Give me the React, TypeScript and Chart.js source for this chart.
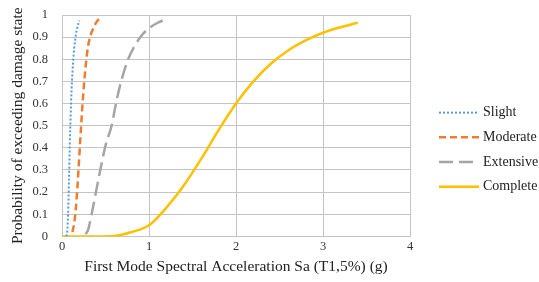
import React, { useEffect, useRef } from "react";
import { Chart, registerables } from "chart.js";

Chart.register(...registerables);

const seriesNames = ["Slight", "Moderate", "Extensive", "Complete"];

const slightX = [0.05, 0.06, 0.07, 0.08, 0.09, 0.1, 0.11, 0.12, 0.13, 0.14, 0.16, 0.18, 0.2];
const slightY = [0, 0.02, 0.1, 0.25, 0.42, 0.55, 0.66, 0.74, 0.8, 0.85, 0.91, 0.95, 0.975];

const moderateX = [0.12, 0.14, 0.16, 0.18, 0.2, 0.22, 0.24, 0.26, 0.28, 0.3, 0.33, 0.36, 0.4, 0.44];
const moderateY = [0.02, 0.06, 0.13, 0.24, 0.37, 0.5, 0.62, 0.72, 0.8, 0.86, 0.91, 0.94, 0.97, 0.985];

const extensiveX = [0.27, 0.3, 0.34, 0.39, 0.44, 0.5, 0.57, 0.62, 0.68, 0.76, 0.9, 1.0, 1.1, 1.22];
const extensiveY = [0.01, 0.03, 0.1, 0.2, 0.3, 0.41, 0.5, 0.6, 0.7, 0.8, 0.9, 0.94, 0.965, 0.985];

const completeX = [0, 0.2, 0.4, 0.6, 0.8, 1.0, 1.2, 1.4, 1.6, 1.8, 2.0, 2.2, 2.4, 2.6, 2.8, 3.0, 3.2, 3.4];
const completeY = [0, 0, 0, 0.002, 0.02, 0.05, 0.13, 0.23, 0.35, 0.48, 0.6, 0.7, 0.78, 0.84, 0.885, 0.92, 0.945, 0.965];

const colors = ["#5b9bd5", "#ed7d31", "#a5a5a5", "#ffc000"];
const dashes = [[2, 2], [7, 4], [14, 6], []];
const widths = [2, 2.5, 2.5, 2.5];

const xTitle = "First Mode Spectral Acceleration Sa (T1,5%) (g)";
const yTitle = "Probability of exceeding damage state";

const toPts = (xs: number[], ys: number[]) => xs.map((x, i) => ({ x, y: ys[i] }));
const serif = "'Liberation Serif', 'Times New Roman', serif";

const legendPlugin = {
  id: "sideLegend",
  afterDraw(chart: any) {
    const ctx = chart.ctx as CanvasRenderingContext2D;
    const area = chart.chartArea;
    const x0 = area.right + 29;
    const lineLen = 40;
    const gap = 24.7;
    const n = chart.data.datasets.length;
    const yMid = (area.top + area.bottom) / 2 + 24;
    ctx.save();
    chart.data.datasets.forEach((ds: any, i: number) => {
      const y = yMid + (i - (n - 1) / 2) * gap;
      ctx.beginPath();
      ctx.strokeStyle = ds.borderColor;
      ctx.lineWidth = ds.borderWidth;
      ctx.setLineDash(ds.borderDash || []);
      ctx.moveTo(x0, y);
      ctx.lineTo(x0 + lineLen, y);
      ctx.stroke();
      ctx.setLineDash([]);
      ctx.fillStyle = "#222";
      ctx.font = `14px ${serif}`;
      ctx.textBaseline = "middle";
      ctx.textAlign = "left";
      ctx.fillText(ds.label, x0 + lineLen + 4, y);
    });
    ctx.restore();
  },
};

export default function App() {
  const ref = useRef<HTMLCanvasElement | null>(null);
  useEffect(() => {
    document.body.style.margin = "0";
    const allX = [slightX, moderateX, extensiveX, completeX];
    const allY = [slightY, moderateY, extensiveY, completeY];
    const chart = new Chart(ref.current!, {
      type: "line",
      data: {
        datasets: seriesNames.map((name, i) => ({
          label: name,
          data: toPts(allX[i], allY[i]),
          borderColor: colors[i],
          backgroundColor: colors[i],
          borderDash: dashes[i],
          borderWidth: widths[i],
          pointRadius: 0,
          cubicInterpolationMode: "monotone" as const,
          fill: false,
        })),
      },
      options: {
        responsive: false,
        animation: false,
        layout: { padding: { top: 15, right: 129, bottom: 6, left: 6 } },
        plugins: {
          tooltip: { enabled: false },
          legend: { display: false },
        },
        scales: {
          x: {
            type: "linear",
            min: 0,
            max: 4,
            ticks: {
              stepSize: 1,
              color: "#333",
              font: { family: serif, size: 12.5 },
              padding: 3,
              callback: (v: any) => String(Number(v)),
            },
            grid: { color: "#c4c4c4", drawTicks: false },
            border: { color: "#c4c4c4" },
            title: {
              display: true,
              text: xTitle,
              color: "#222",
              font: { family: serif, size: 15.5 },
              padding: { top: 0, bottom: 0 },
            },
          },
          y: {
            min: 0,
            max: 1,
            afterFit: (scale: any) => {
              scale.width = 56;
              scale.paddingTop = 0;
              scale.paddingBottom = 0;
            },
            ticks: {
              stepSize: 0.1,
              color: "#333",
              font: { family: serif, size: 12.5 },
              padding: 14,
              callback: (v: any) => String(Math.round(Number(v) * 10) / 10),
            },
            grid: { color: "#c4c4c4", drawTicks: false },
            border: { color: "#c4c4c4" },
            title: {
              display: true,
              text: yTitle,
              color: "#222",
              font: { family: serif, size: 15.5 },
              padding: { top: 3, bottom: 6 },
            },
          },
        },
      },
      plugins: [legendPlugin],
    });
    return () => chart.destroy();
  }, []);
  return (
    <div style={{ width: 539, height: 282 }}>
      <canvas ref={ref} width={539} height={282} />
    </div>
  );
}
